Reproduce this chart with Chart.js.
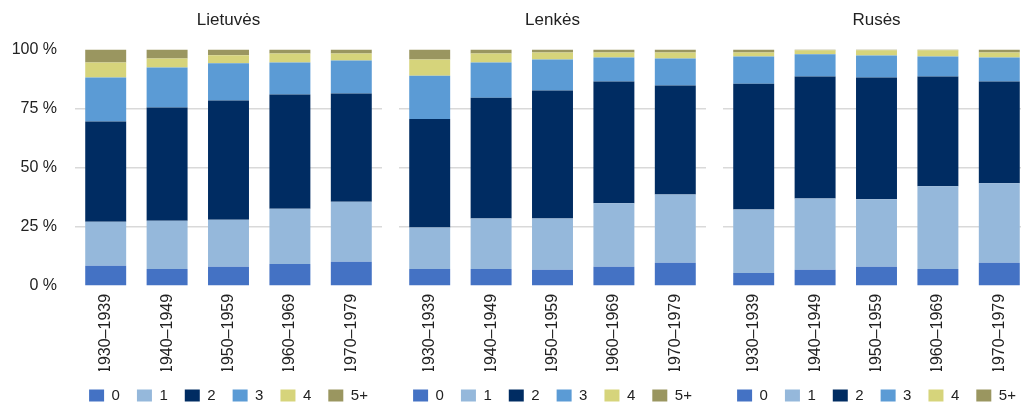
<!DOCTYPE html>
<html>
<head>
<meta charset="utf-8">
<script src="https://cdn.jsdelivr.net/npm/chart.js@4/dist/chart.umd.min.js"></script>
<style>
  body { margin: 0; width: 1021px; height: 413px; overflow: hidden; background: #fff; position: relative; }
  canvas { position: absolute; top: 0; }
</style>
</head>
<body>
<canvas id="g1" width="457" height="413" style="left:0px"></canvas>
<canvas id="g2" width="457" height="413" style="left:324px"></canvas>
<canvas id="g3" width="457" height="413" style="left:648px"></canvas>
<script>
// laikotarpiai ir vaikų skaičiaus grupės
const laikotarpiai = ["1930–1939", "1940–1949", "1950–1959", "1960–1969", "1970–1979"];
const vaikai = ["0", "1", "2", "3", "4", "5+"];
const spalvos = ["#4472c4", "#95b8db", "#002c62", "#5b9bd5", "#d6d47b", "#9a9660"];
const yTikai = [0, 25, 50, 75, 100];

// procentai, eilutė = vaikų grupė, stulpelis = laikotarpis
const lietuves = [
  [8.5, 7.2, 8.1, 9.3, 10.2],
  [18.6, 20.3, 19.9, 23.3, 25.4],
  [42.4, 47.9, 50.4, 48.3, 45.8],
  [18.6, 17.0, 15.7, 13.6, 13.9],
  [6.4, 3.8, 3.4, 3.8, 3.0],
  [5.5, 3.8, 2.5, 1.7, 1.7],
];
const lenkes = [
  [7.2, 7.2, 6.8, 8.1, 9.8],
  [17.5, 21.3, 21.7, 26.8, 28.9],
  [45.9, 51.1, 54.1, 51.5, 46.0],
  [18.3, 14.9, 13.1, 10.2, 11.5],
  [6.8, 3.8, 3.0, 2.1, 2.5],
  [4.3, 1.7, 1.3, 1.3, 1.3],
];
const ruses = [
  [5.5, 6.8, 8.1, 7.2, 9.8],
  [26.8, 30.2, 28.5, 34.9, 33.6],
  [53.2, 51.5, 51.5, 46.4, 43.0],
  [11.5, 9.4, 9.3, 8.5, 10.2],
  [1.7, 1.7, 2.2, 2.6, 2.1],
  [1.3, 0.4, 0.4, 0.4, 1.3],
];

const sriftas = "'Liberation Sans', Arial, sans-serif";
const tekstoSpalva = "#222";

// kairė ir tuščia dešinė ašys po 75 px, kad pavadinimas ir legenda būtų centruoti virš stulpelių
function piestiGrafika(id, pavadinimas, duomenys, suAsimi) {
  const ctx = document.getElementById(id).getContext("2d");
  return new Chart(ctx, {
    type: "bar",
    data: {
      labels: laikotarpiai,
      datasets: vaikai.map((v, i) => ({
        label: v,
        data: duomenys[i],
        backgroundColor: spalvos[i],
        borderWidth: 0,
        barPercentage: 0.667,
        categoryPercentage: 1,
      })),
    },
    options: {
      responsive: false,
      animation: false,
      layout: { padding: 0 },
      plugins: {
        tooltip: { enabled: false },
        title: {
          display: true,
          text: pavadinimas,
          color: tekstoSpalva,
          font: { family: sriftas, size: 17, weight: "normal" },
          padding: { top: 10, bottom: 19 },
        },
        legend: {
          position: "bottom",
          labels: {
            boxWidth: 15,
            boxHeight: 12,
            padding: 17,
            color: tekstoSpalva,
            font: { family: sriftas, size: 15 },
          },
        },
      },
      scales: {
        x: {
          stacked: true,
          grid: { display: false, drawTicks: false },
          border: { display: false },
          afterFit: (s) => { s.height -= 11; },
          ticks: {
            minRotation: 90,
            maxRotation: 90,
            padding: 8,
            color: tekstoSpalva,
            font: { family: sriftas, size: 16 },
          },
        },
        y: {
          stacked: true,
          min: 0,
          max: 100,
          afterBuildTicks: (s) => { s.ticks = yTikai.map((v) => ({ value: v })); },
          afterFit: (s) => { s.width = 75; },
          grid: {
            drawTicks: false,
            lineWidth: 1.5,
            color: (c) => (c.tick && (c.tick.value === 0 || c.tick.value === 100) ? "rgba(0,0,0,0)" : "#d9d9d9"),
          },
          border: { display: false },
          ticks: {
            display: suAsimi,
            padding: 18,
            color: tekstoSpalva,
            font: { family: sriftas, size: 16 },
            callback: (v) => v + " %",
          },
        },
        tarpas: {
          position: "right",
          afterFit: (s) => { s.width = 75; },
          grid: { display: false },
          border: { display: false },
          ticks: { display: false },
        },
      },
    },
  });
}

piestiGrafika("g1", "Lietuvės", lietuves, true);
piestiGrafika("g2", "Lenkės", lenkes, false);
piestiGrafika("g3", "Rusės", ruses, false);
</script>
</body>
</html>
